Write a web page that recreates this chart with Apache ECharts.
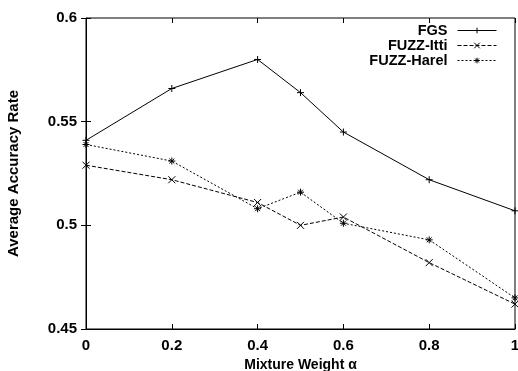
<!DOCTYPE html>
<html>
<head>
<meta charset="utf-8">
<script src="https://cdn.jsdelivr.net/npm/echarts@6/dist/echarts.min.js"></script>
<style>
  html, body {margin: 0; padding: 0; background: #fff;}
  #chart {width: 518px; height: 371px;}
</style>
</head>
<body>
<div id="chart"></div>
<script>
// mixture weight alpha
var weights = [0, 0.2, 0.4, 0.5, 0.6, 0.8, 1];
var fgs = [0.541, 0.566, 0.580, 0.564, 0.545, 0.522, 0.507];
var fuzzItti = [0.529, 0.522, 0.511, 0.500, 0.504, 0.482, 0.462];
var fuzzHarel = [0.539, 0.531, 0.508, 0.516, 0.501, 0.493, 0.465];
var seriesNames = ['FGS', 'FUZZ-Itti', 'FUZZ-Harel'];

var PLUS = 'path://M0,-1L0,1M-1,0L1,0';
var CROSS = 'path://M-1,-1L1,1M-1,1L1,-1';
var STAR = 'path://M0,-1L0,1M-1,0L1,0M-0.7,-0.7L0.7,0.7M-0.7,0.7L0.7,-0.7';
var FONT = 'Liberation Sans';

function pairs(ys) {
    return weights.map(function (w, i) { return [w, ys[i]]; });
}

function lineSeries(name, ys, symbol, dash) {
    return {
        name: name,
        type: 'line',
        data: pairs(ys),
        symbol: symbol,
        symbolSize: 7,
        lineStyle: {color: '#000', width: 1, type: dash},
        itemStyle: {color: '#000', borderColor: '#000', borderWidth: 1},
        animation: false
    };
}

var myChart = echarts.init(document.getElementById('chart'));
myChart.setOption({
    backgroundColor: '#fff',
    textStyle: {fontFamily: FONT},
    grid: {
        left: 86, right: 3, top: 18, bottom: 42,
        outerBoundsMode: 'none', containLabel: false,
        show: true, borderColor: '#000', borderWidth: 1
    },
    legend: {
        orient: 'vertical',
        right: 21,
        top: 23,
        padding: 0,
        align: 'right',
        itemWidth: 39,
        itemHeight: 7,
        itemGap: 0,
        data: seriesNames,
        lineStyle: {width: 1},
        itemStyle: {borderWidth: 1},
        textStyle: {fontFamily: FONT, fontWeight: 'bold', fontSize: 14.5, lineHeight: 14, color: '#000', padding: [0, 5, 0, 0]}
    },
    xAxis: [{
        type: 'value',
        min: 0, max: 1, interval: 0.2,
        name: 'Mixture Weight α',
        nameLocation: 'middle',
        nameGap: 27,
        nameTextStyle: {fontFamily: FONT, fontWeight: 'bold', fontSize: 14, color: '#000'},
        axisLine: {show: true, lineStyle: {color: '#000'}},
        axisTick: {show: true, inside: true, length: 5, lineStyle: {color: '#000'}},
        axisLabel: {color: '#000', fontWeight: 'bold', fontSize: 15, margin: 9, fontFamily: FONT},
        splitLine: {show: false}
    }, {
        type: 'value', position: 'top',
        min: 0, max: 1, interval: 0.2,
        axisLine: {show: false},
        axisTick: {show: true, inside: true, length: 5, lineStyle: {color: '#000'}},
        axisLabel: {show: false},
        splitLine: {show: false}
    }],
    yAxis: [{
        type: 'value',
        min: 0.45, max: 0.6, interval: 0.05,
        name: 'Average Accuracy Rate',
        nameLocation: 'middle',
        nameGap: 65,
        nameTextStyle: {fontFamily: FONT, fontWeight: 'bold', fontSize: 15, color: '#000'},
        axisLine: {show: true, lineStyle: {color: '#000'}},
        axisTick: {show: true, inside: true, length: 5, lineStyle: {color: '#000'}},
        axisLabel: {color: '#000', fontWeight: 'bold', fontSize: 15, margin: 9, fontFamily: FONT},
        splitLine: {show: false}
    }, {
        type: 'value', position: 'right',
        min: 0.45, max: 0.6, interval: 0.05,
        axisLine: {show: false},
        axisTick: {show: true, inside: true, length: 5, lineStyle: {color: '#000'}},
        axisLabel: {show: false},
        splitLine: {show: false}
    }],
    series: [
        lineSeries(seriesNames[0], fgs, PLUS, 'solid'),
        lineSeries(seriesNames[1], fuzzItti, CROSS, [4, 2]),
        lineSeries(seriesNames[2], fuzzHarel, STAR, [2, 2])
    ]
});
</script>
</body>
</html>
